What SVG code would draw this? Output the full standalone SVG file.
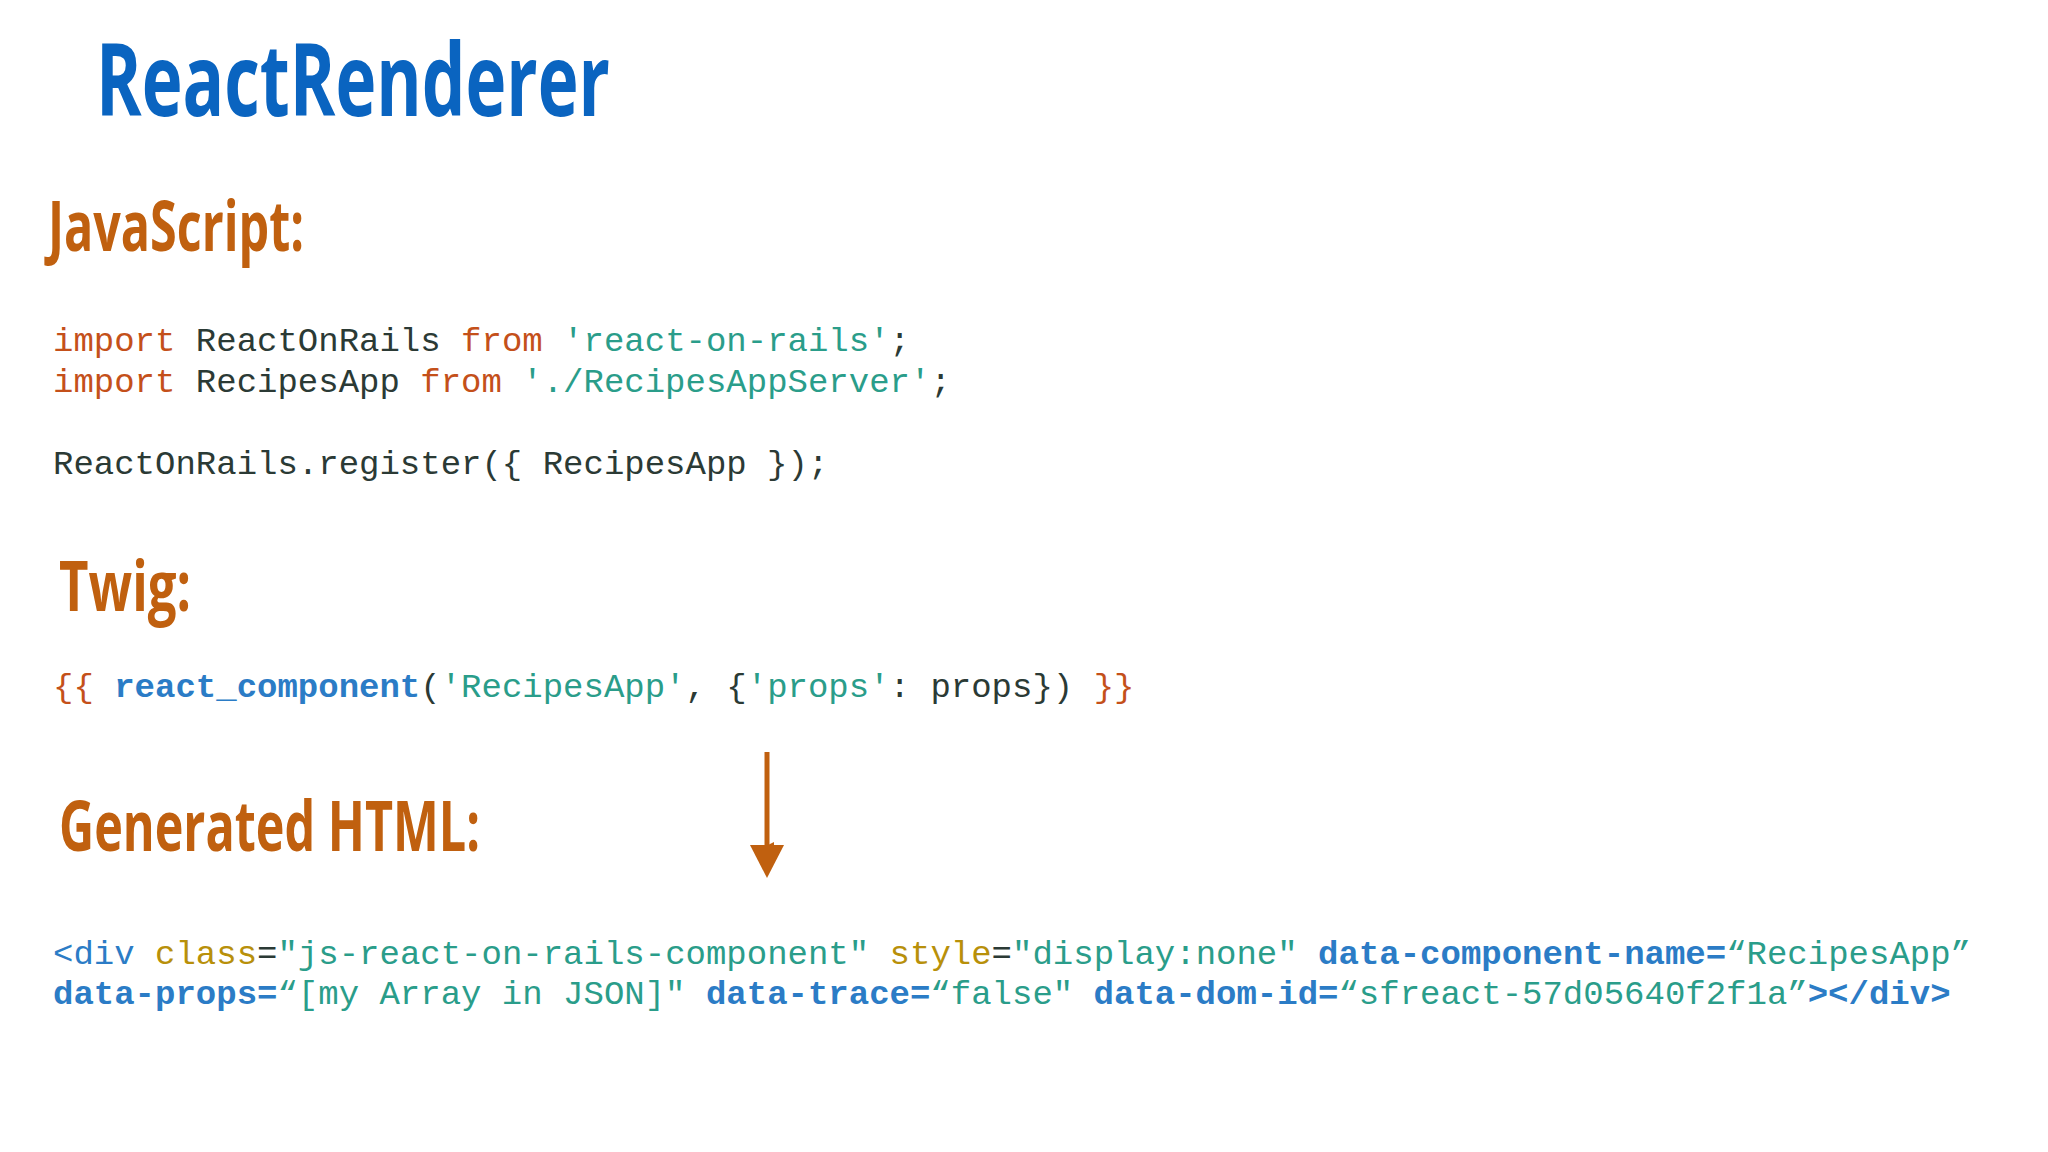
<svg xmlns="http://www.w3.org/2000/svg" width="2048" height="1152" viewBox="0 0 2048 1152">
<style>
.h{font-family:"Open Sans","Liberation Sans",sans-serif;font-weight:bold;fill:#c0600f}
.c{font-family:"Liberation Mono","DejaVu Sans Mono",monospace;font-size:34px;fill:#2b3a35;white-space:pre}
.k{fill:#c4501a}.s{fill:#2a9d8a}.b{fill:#2b7cc6;font-weight:bold}.a{fill:#b8900a}.t{fill:#2b7cc6}
</style>
<defs><marker id="ah" markerWidth="8" markerHeight="8" refX="4" refY="7" orient="auto" markerUnits="userSpaceOnUse" viewBox="0 0 8 8"><path d="M0,0 L8,0 L4,8 Z" fill="#c0600f"/></marker></defs>
<rect width="2048" height="1152" fill="#fff"/>
<g id="title"><text x="96" y="116" textLength="514" lengthAdjust="spacingAndGlyphs" font-family="Open Sans, Liberation Sans, sans-serif" font-weight="bold" font-size="100" fill="#0a64c0">ReactRenderer</text></g>
<g id="js">
<text class="h" x="48" y="251" font-size="70" textLength="256" lengthAdjust="spacingAndGlyphs">JavaScript:</text>
<text class="c" x="53" y="351" xml:space="preserve"><tspan class="k">import</tspan> ReactOnRails <tspan class="k">from</tspan> <tspan class="s">'react-on-rails'</tspan>;</text>
<text class="c" x="53" y="392" xml:space="preserve"><tspan class="k">import</tspan> RecipesApp <tspan class="k">from</tspan> <tspan class="s">'./RecipesAppServer'</tspan>;</text>
<text class="c" x="53" y="474" xml:space="preserve">ReactOnRails.register({ RecipesApp });</text>
</g>
<g id="twig">
<text class="h" x="59" y="611" font-size="70" textLength="132" lengthAdjust="spacingAndGlyphs">Twig:</text>
<text class="c" x="53" y="697" xml:space="preserve"><tspan class="k">{{</tspan> <tspan class="b">react_component</tspan>(<tspan class="s">'RecipesApp'</tspan>, {<tspan class="s">'props'</tspan>: props}) <tspan class="k">}}</tspan></text>
</g>
<g id="connectors"><line x1="767" y1="752" x2="767" y2="846" stroke="#c0600f" stroke-width="5" marker-end="url(#ah)"/><path d="M750,845 L784,845 L767,878 Z" fill="#c0600f"/></g>
<g id="html">
<text class="h" x="59" y="851" font-size="70" textLength="421" lengthAdjust="spacingAndGlyphs">Generated HTML:</text>
<text class="c" x="53" y="964" xml:space="preserve"><tspan class="t">&lt;div</tspan> <tspan class="a">class</tspan>=<tspan class="s">"js-react-on-rails-component"</tspan> <tspan class="a">style</tspan>=<tspan class="s">"display:none"</tspan> <tspan class="b">data-component-name=</tspan><tspan class="s">“RecipesApp”</tspan></text>
<text class="c" x="53" y="1004" xml:space="preserve"><tspan class="b">data-props=</tspan><tspan class="s">“[my Array in JSON]"</tspan> <tspan class="b">data-trace=</tspan><tspan class="s">“false"</tspan> <tspan class="b">data-dom-id=</tspan><tspan class="s">“sfreact-57d05640f2f1a”</tspan><tspan class="b">&gt;&lt;/div&gt;</tspan></text>
</g>
</svg>
